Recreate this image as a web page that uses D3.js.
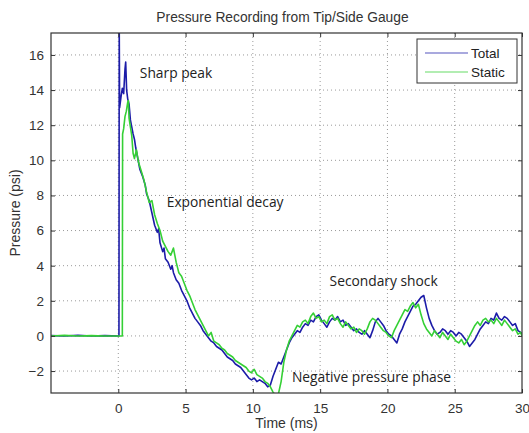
<!DOCTYPE html>
<html>
<head>
<meta charset="utf-8">
<script src="https://cdn.jsdelivr.net/npm/d3@7"></script>
<style>
  html, body { margin: 0; padding: 0; background: #fff; }
  svg { display: block; }
</style>
</head>
<body>
<svg id="chart" width="529" height="433"></svg>
<script>
// ---------- DATA ----------
const chartTitle = "Pressure Recording from Tip/Side Gauge";
const xLabel = "Time (ms)";
const yLabel = "Pressure (psi)";
const seriesNames = ["Total", "Static"];
const xTicks = [0, 5, 10, 15, 20, 25, 30];
const yTicks = [-2, 0, 2, 4, 6, 8, 10, 12, 14, 16];

// Total pressure: [time (ms), pressure (psi)]
const totalData = [
  [-5,0.02],[-4,0.0],[-3,0.03],[-2,0.0],[-1,0.02],[0.05,0.0],[0.07,17.6],
  [0.1,13.0],[0.2,13.6],[0.3,14.1],[0.4,13.8],[0.5,15.2],[0.55,15.6],[0.62,14.0],
  [0.7,13.5],[0.8,13.2],[0.9,12.3],[1.0,11.9],[1.1,11.5],[1.2,11.2],[1.3,10.7],
  [1.45,10.1],[1.6,9.5],[1.8,9.1],[2.0,8.6],[2.1,8.1],[2.3,7.7],[2.5,7.0],
  [2.7,6.3],[2.9,5.9],[3.0,6.1],[3.1,5.3],[3.3,4.8],[3.4,5.0],[3.5,4.4],[3.7,4.2],[3.9,3.8],
  [4.0,4.0],[4.1,3.6],[4.3,3.2],[4.5,3.0],[4.7,2.6],[4.9,2.3],[5.1,2.0],[5.3,1.6],
  [5.5,1.3],[5.7,1.0],[5.9,0.8],[6.1,0.6],[6.3,0.3],[6.5,0.1],[6.7,-0.1],
  [6.9,-0.3],[7.1,-0.4],[7.3,-0.6],[7.5,-0.7],[7.7,-0.8],[7.9,-1.0],[8.1,-1.2],
  [8.3,-1.3],[8.5,-1.4],[8.7,-1.6],[8.9,-1.7],[9.1,-1.8],[9.3,-2.0],[9.5,-2.2],
  [9.7,-2.4],[9.9,-2.5],[10.1,-2.4],[10.3,-2.6],[10.5,-2.5],[10.7,-2.6],[10.9,-2.7],
  [11.1,-2.9],[11.3,-2.8],[11.5,-2.3],[11.7,-1.9],[11.9,-1.5],[12.1,-1.6],[12.3,-1.2],
  [12.5,-0.8],[12.7,-0.4],[12.9,-0.1],[13.1,0.1],[13.3,0.3],[13.5,0.2],[13.7,0.5],
  [13.9,0.7],[14.1,0.6],[14.3,0.9],[14.5,0.8],[14.7,1.1],[14.9,1.2],[15.1,0.9],
  [15.3,0.7],[15.5,0.5],[15.7,0.8],[15.9,1.0],[16.1,0.9],[16.3,1.1],[16.5,0.8],
  [16.7,0.9],[16.9,0.6],[17.1,0.7],[17.3,0.5],[17.5,0.3],[17.7,0.4],[17.9,0.2],
  [18.1,0.1],[18.3,0.3],[18.5,0.1],[18.7,-0.1],[18.9,0.3],[19.1,0.8],[19.3,1.0],
  [19.5,0.8],[19.7,0.6],[19.9,0.3],[20.1,0.1],[20.3,0.0],[20.5,-0.2],[20.7,-0.4],
  [20.9,0.1],[21.1,0.4],[21.3,0.8],[21.5,1.1],[21.7,1.4],[21.9,1.7],[22.1,1.8],
  [22.3,2.0],[22.5,2.2],[22.7,2.3],[22.9,1.6],[23.1,1.0],[23.3,0.6],[23.5,0.3],
  [23.7,0.1],[23.9,0.2],[24.1,0.4],[24.3,0.3],[24.5,0.1],[24.7,0.3],[24.9,0.2],
  [25.1,0.0],[25.3,0.2],[25.5,0.1],[25.7,-0.1],[25.9,-0.3],[26.1,-0.6],[26.3,-0.4],
  [26.5,-0.2],[26.7,0.1],[26.9,0.4],[27.1,0.6],[27.3,0.8],[27.5,0.7],[27.7,1.0],
  [27.9,0.9],[28.1,1.3],[28.3,1.0],[28.5,0.9],[28.7,1.1],[28.9,1.0],[29.1,0.8],
  [29.3,0.6],[29.5,0.7],[29.7,0.3],[29.9,0.2],[30,0.1]
];

// Static pressure: [time (ms), pressure (psi)]
const staticData = [
  [-5,0.0],[-4,0.03],[-3,0.0],[-2,0.02],[-1,0.0],[0.3,0.0],[0.32,11.5],
  [0.4,11.8],[0.5,12.5],[0.6,12.8],[0.7,13.3],[0.75,13.4],[0.8,12.4],[0.9,11.9],
  [1.0,11.4],[1.1,10.4],[1.2,10.1],[1.35,10.6],[1.5,9.9],[1.7,9.4],[1.9,8.9],
  [2.1,8.2],[2.3,7.6],[2.5,7.7],[2.7,6.9],[2.9,6.4],[3.1,6.0],[3.3,5.4],
  [3.5,5.1],[3.7,4.8],[3.9,4.6],[4.1,5.0],[4.3,4.2],[4.5,3.6],[4.7,3.4],
  [4.9,3.0],[5.1,2.6],[5.3,2.3],[5.5,1.9],[5.7,1.5],[5.9,1.2],[6.1,0.9],
  [6.3,0.6],[6.5,0.3],[6.7,0.0],[6.9,0.2],[7.1,-0.3],[7.3,-0.4],[7.5,-0.5],
  [7.7,-0.7],[7.9,-0.8],[8.1,-1.0],[8.3,-1.1],[8.5,-1.2],[8.7,-1.4],[8.9,-1.5],
  [9.1,-1.6],[9.3,-1.7],[9.5,-1.8],[9.7,-2.0],[9.9,-2.1],[10.1,-1.9],[10.3,-2.2],
  [10.5,-2.3],[10.7,-2.4],[10.9,-2.6],[11.1,-2.7],[11.3,-2.9],[11.5,-3.2],[11.7,-3.4],
  [11.9,-3.3],[12.1,-2.6],[12.3,-1.5],[12.5,-0.8],[12.7,-0.3],[12.9,0.0],[13.1,0.3],
  [13.3,0.6],[13.5,0.5],[13.7,0.8],[13.9,0.9],[14.1,0.7],[14.3,1.1],[14.5,1.3],
  [14.7,1.0],[14.9,1.1],[15.1,0.8],[15.3,0.9],[15.5,0.7],[15.7,1.1],[15.9,1.2],
  [16.1,0.9],[16.3,1.0],[16.5,0.7],[16.7,0.5],[16.9,0.8],[17.1,0.6],[17.3,0.4],
  [17.5,0.5],[17.7,0.2],[17.9,0.4],[18.1,0.3],[18.3,0.1],[18.5,0.4],[18.7,0.8],
  [18.9,1.0],[19.1,0.9],[19.3,0.7],[19.5,0.5],[19.7,0.3],[19.9,0.2],[20.1,0.0],
  [20.3,-0.1],[20.5,0.3],[20.7,0.6],[20.9,0.9],[21.1,1.2],[21.3,1.5],[21.5,1.4],
  [21.7,1.7],[21.9,1.9],[22.1,1.6],[22.3,1.8],[22.5,1.2],[22.7,0.7],[22.9,0.4],
  [23.1,0.2],[23.3,0.0],[23.5,0.3],[23.7,0.1],[23.9,-0.1],[24.1,0.2],[24.3,0.0],
  [24.5,-0.2],[24.7,0.1],[24.9,-0.1],[25.1,-0.3],[25.3,-0.4],[25.5,-0.2],[25.7,-0.5],
  [25.9,-0.3],[26.1,0.0],[26.3,0.3],[26.5,0.6],[26.7,0.8],[26.9,0.6],[27.1,0.9],
  [27.3,1.0],[27.5,0.8],[27.7,0.9],[27.9,0.7],[28.1,1.0],[28.3,0.8],[28.5,0.6],
  [28.7,0.9],[28.9,0.7],[29.1,0.5],[29.3,0.3],[29.5,0.4],[29.7,0.1],[29.9,0.2],[30,0.0]
];

// Annotations: [text, time, pressure] anchor = left/baseline
const annotations = [
  ["Sharp peak", 1.6, 14.7],
  ["Exponential decay", 3.6, 7.35],
  ["Secondary shock", 15.7, 2.85],
  ["Negative pressure phase", 12.9, -2.6]
];

// ---------- LAYOUT ----------
const margin = { left: 51, top: 33, right: 7, bottom: 40 };
const W = 529, H = 433;
const plotW = W - margin.left - margin.right; // 471
const plotH = H - margin.top - margin.bottom; // 360

const x = d3.scaleLinear().domain([-5, 30]).range([0, plotW]);
const y = d3.scaleLinear().domain([-3.25, 17.25]).range([plotH, 0]);

const colors = { Total: "#1c1ca8", Static: "#35d035" };
const font = "Arial, 'Liberation Sans', sans-serif";

const svg = d3.select("#chart");
const g = svg.append("g").attr("transform", `translate(${margin.left},${margin.top})`);

svg.append("defs").append("clipPath").attr("id", "clip")
  .append("rect").attr("width", plotW).attr("height", plotH);

// grid
g.append("g").selectAll("line.gx").data(xTicks.filter(t => t > -5 && t < 30)).join("line")
  .attr("x1", d => x(d)).attr("x2", d => x(d)).attr("y1", 0).attr("y2", plotH)
  .attr("stroke", "#9a9a9a").attr("stroke-width", 1).attr("stroke-dasharray", "1,3");
g.append("g").selectAll("line.gy").data(yTicks).join("line")
  .attr("x1", 0).attr("x2", plotW).attr("y1", d => y(d)).attr("y2", d => y(d))
  .attr("stroke", "#9a9a9a").attr("stroke-width", 1).attr("stroke-dasharray", "1,3");

// series
const line = d3.line().x(d => x(d[0])).y(d => y(d[1]));
const lines = g.append("g").attr("clip-path", "url(#clip)");
lines.append("path").datum(totalData).attr("d", line)
  .attr("fill", "none").attr("stroke", colors.Total).attr("stroke-width", 1.6).attr("stroke-linejoin", "round");
lines.append("path").datum(staticData).attr("d", line)
  .attr("fill", "none").attr("stroke", colors.Static).attr("stroke-width", 1.6).attr("stroke-linejoin", "round");

// axes (inner ticks, MATLAB style)
function styleAxis(sel) {
  sel.select(".domain").remove();
  sel.selectAll(".tick line").attr("stroke", "#333");
  sel.selectAll(".tick text").attr("fill", "#333").style("font-family", font).style("font-size", "13.5px");
}
g.append("g").attr("transform", `translate(0,${plotH})`)
  .call(d3.axisBottom(x).tickValues(xTicks).tickSizeInner(-4).tickSizeOuter(0).tickPadding(10))
  .call(styleAxis);
g.append("g")
  .call(d3.axisTop(x).tickValues(xTicks).tickSizeInner(-4).tickSizeOuter(0).tickFormat(""))
  .call(styleAxis);
g.append("g")
  .call(d3.axisLeft(y).tickValues(yTicks).tickSizeInner(-4).tickSizeOuter(0).tickPadding(7))
  .call(styleAxis);
g.append("g").attr("transform", `translate(${plotW},0)`)
  .call(d3.axisRight(y).tickValues(yTicks).tickSizeInner(-4).tickSizeOuter(0).tickFormat(""))
  .call(styleAxis);

// frame
g.append("rect").attr("width", plotW).attr("height", plotH)
  .attr("fill", "none").attr("stroke", "#333").attr("stroke-width", 1.2);

// annotations
g.append("g").selectAll("text").data(annotations).join("text")
  .attr("x", d => x(d[1])).attr("y", d => y(d[2]))
  .attr("fill", "#222").style("font-family", "'Open Sans', 'Noto Sans', sans-serif").style("font-size", "13.8px")
  .text(d => d[0]);

// title & labels
svg.append("text").attr("x", margin.left + plotW / 2 - 4).attr("y", 22).attr("text-anchor", "middle")
  .attr("fill", "#333").style("font-family", font).style("font-size", "13.8px").text(chartTitle);
svg.append("text").attr("x", margin.left + plotW / 2).attr("y", 428).attr("text-anchor", "middle")
  .attr("fill", "#333").style("font-family", font).style("font-size", "14px").text(xLabel);
svg.append("text").attr("transform", `translate(20,${margin.top + plotH / 2}) rotate(-90)`).attr("text-anchor", "middle")
  .attr("fill", "#333").style("font-family", font).style("font-size", "14px").text(yLabel);

// legend
const lg = svg.append("g").attr("transform", "translate(417,39)");
lg.append("rect").attr("width", 100).attr("height", 44).attr("fill", "#fff").attr("stroke", "#333").attr("stroke-width", 1);
seriesNames.forEach((name, i) => {
  const ly = 14 + i * 19;
  lg.append("line").attr("x1", 8).attr("x2", 51).attr("y1", ly).attr("y2", ly)
    .attr("stroke", colors[name]).attr("stroke-width", 1.2).attr("opacity", 0.75);
  lg.append("text").attr("x", 54).attr("y", ly + 5).attr("fill", "#222")
    .style("font-family", font).style("font-size", "13.5px").text(name);
});
</script>
</body>
</html>
